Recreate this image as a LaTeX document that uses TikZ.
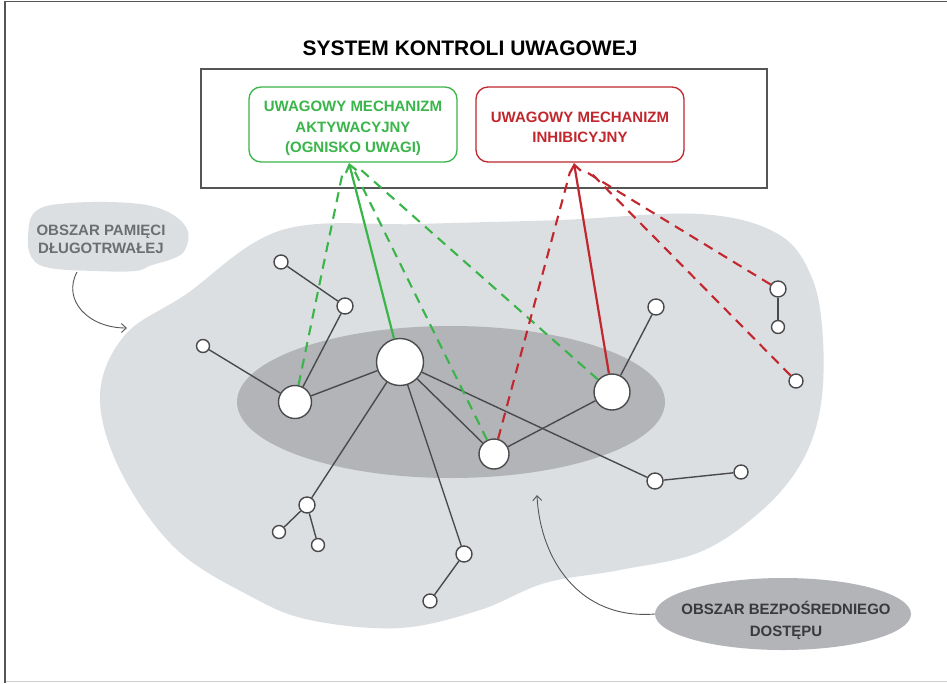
\documentclass[tikz,border=0pt]{standalone}
\usepackage{fontspec}
\setmainfont{Liberation Sans}
\usetikzlibrary{arrows.meta,shapes.geometric}

\definecolor{memgray}{HTML}{DCDFE2}
\definecolor{accgray}{HTML}{B2B4B8}
\definecolor{edgegray}{HTML}{4A4A4C}
\definecolor{actgreen}{HTML}{3AB54A}
\definecolor{inhred}{HTML}{C1272D}
\definecolor{labelgray}{HTML}{6D6E71}
\definecolor{darktext}{HTML}{3A3A3C}
\definecolor{framegray}{HTML}{555555}
\definecolor{framelight}{HTML}{CFCFCF}

\tikzset{
  memnode/.style={circle, draw=edgegray, fill=white, line width=1.4pt, inner sep=0pt, minimum size=#1},
  link/.style={draw=edgegray, line width=1.4pt},
  gsolid/.style={draw=actgreen, line width=2.2pt, -{Straight Barb[length=7pt,width=11pt]}},
  rsolid/.style={draw=inhred, line width=2.2pt, -{Straight Barb[length=7pt,width=11pt]}},
  gdash/.style={draw=actgreen, line width=2.1pt, dash pattern=on 10pt off 7pt},
  rdash/.style={draw=inhred, line width=2.1pt, dash pattern=on 10pt off 7pt},
  mechbox/.style={draw=#1, rounded corners=12pt, line width=1.3pt,
    minimum width=208pt, minimum height=75pt, inner sep=0pt},
  mechtext/.style={text=#1, align=center, font=\fontsize{15}{20.5}\selectfont\bfseries},
  pointer/.style={draw=framegray, line width=0.9pt, -{Straight Barb[length=5pt,width=9pt]}},
}

\begin{document}
\begin{tikzpicture}[x=1pt, y=-1pt]
\useasboundingbox (0,0) rectangle (947,683);
\fill[white] (0,0) rectangle (947,683);

% page frame
\draw[framelight, line width=1.2pt] (5,681.5) -- (947,681.5);
\draw[framegray, line width=1.5pt] (5,683) -- (5,1.5) -- (947,1.5);

% long-term memory region
\fill[memgray] plot[smooth cycle, tension=0.6] coordinates {
  (282,230) (420,224) (560,220) (700,214) (778,234) (812,278) (823,340)
  (820,410) (800,465) (760,512) (700,552) (620,570) (545,583) (480,610)
  (400,628) (310,620) (250,596) (175,548) (120,470) (100,395) (125,335) (185,295)};

% direct access region
\fill[accgray] (451,402) ellipse [x radius=214, y radius=76];

% label blob for long-term memory
\fill[memgray] plot[smooth cycle, tension=0.65] coordinates {
  (28,236) (36,211) (70,203) (130,203) (166,211) (187,229) (185,250)
  (172,259) (152,265) (135,271) (95,271) (50,268) (32,258)};
\node[text=labelgray, align=center, font=\fontsize{15}{18}\selectfont\bfseries]
  (memlabel) at (101,239) {OBSZAR PAMIĘCI\\DŁUGOTRWAŁEJ};
\coordinate (memarrow) at (127,328);
\draw[pointer] (77,272) .. controls (62,300) and (88,328) .. (memarrow);

% label ellipse for direct access
\node[ellipse, fill=accgray, minimum width=256pt, minimum height=72pt, inner sep=0pt] (acclabel) at (783,614) {};
\node[text=darktext, align=center, font=\fontsize{15}{22}\selectfont\bfseries]
  (acctext) at (786,620) {OBSZAR BEZPOŚREDNIEGO\\DOSTĘPU};
\coordinate (accarrow) at (537,495);
\draw[pointer] (acclabel.west) .. controls (580,620) and (540,560) .. (accarrow);

% title and control system
\node[font=\fontsize{21}{25}\selectfont\bfseries] (title) at (470,48) {SYSTEM KONTROLI UWAGOWEJ};
\node[draw=framegray, line width=1.2pt, minimum width=566pt, minimum height=119pt, inner sep=0pt] (ctrl) at (484,128.5) {};
\node[mechbox=actgreen] (act) at (353,124.5) {};
\node[mechtext=actgreen] (acttext) at (353,128.5) {UWAGOWY MECHANIZM\\AKTYWACYJNY\\(OGNISKO UWAGI)};
\node[mechbox=inhred] (inh) at (580,124.5) {};
\node[mechtext=inhred] (inhtext) at (580,127.5) {UWAGOWY MECHANIZM\\INHIBICYJNY};

% memory nodes
\node[memnode=14pt] (n1) at (281,262) {};
\node[memnode=16pt] (n2) at (345,306) {};
\node[memnode=13pt] (n3) at (203,346) {};
\node[memnode=33pt] (m1) at (295,402) {};
\node[memnode=47pt] (big) at (400,362) {};
\node[memnode=30pt] (m2) at (494,454) {};
\node[memnode=36pt] (m3) at (612,392) {};
\node[memnode=16pt] (n4) at (656,307) {};
\node[memnode=16pt] (n5) at (778,289) {};
\node[memnode=13pt] (n6) at (778,327) {};
\node[memnode=14pt] (n7) at (796,381) {};
\node[memnode=16pt] (n8) at (655,481) {};
\node[memnode=14pt] (n9) at (741,472) {};
\node[memnode=16pt] (n10) at (307,505) {};
\node[memnode=13pt] (n11) at (279,532) {};
\node[memnode=13pt] (n12) at (318,545) {};
\node[memnode=16pt] (n13) at (464,554) {};
\node[memnode=14pt] (n14) at (430,601) {};

% associations
\draw[link] (n1) -- (n2);
\draw[link] (n2) -- (m1);
\draw[link] (n3) -- (m1);
\draw[link] (m1) -- (big);
\draw[link] (big) -- (n10);
\draw[link] (n10) -- (n11);
\draw[link] (n10) -- (n12);
\draw[link] (big) -- (n13);
\draw[link] (n13) -- (n14);
\draw[link] (big) -- (m2);
\draw[link] (big) -- (n8);
\draw[link] (n8) -- (n9);
\draw[link] (m2) -- (m3);
\draw[link] (m3) -- (n4);
\draw[link] (n5) -- (n6);

% activating links
\coordinate (gtip) at (349,163);
\coordinate (ga) at (343,171);
\coordinate (gb) at (354,170);
\coordinate (gc) at (360,169);
\draw[gsolid] (big) -- (gtip);
\draw[gdash] (m1) -- (ga);
\draw[gdash] (m2) -- (gb);
\draw[gdash] (m3) -- (gc);

% inhibiting links
\coordinate (rtip) at (574,163);
\coordinate (ra) at (570,172);
\coordinate (rb) at (583,170);
\coordinate (rc) at (589,171);
\draw[rsolid] (m3) -- (rtip);
\draw[rdash] (m2) -- (ra);
\draw[rdash] (n5) -- (rb);
\draw[rdash] (n7) -- (rc);
\end{tikzpicture}
\end{document}
